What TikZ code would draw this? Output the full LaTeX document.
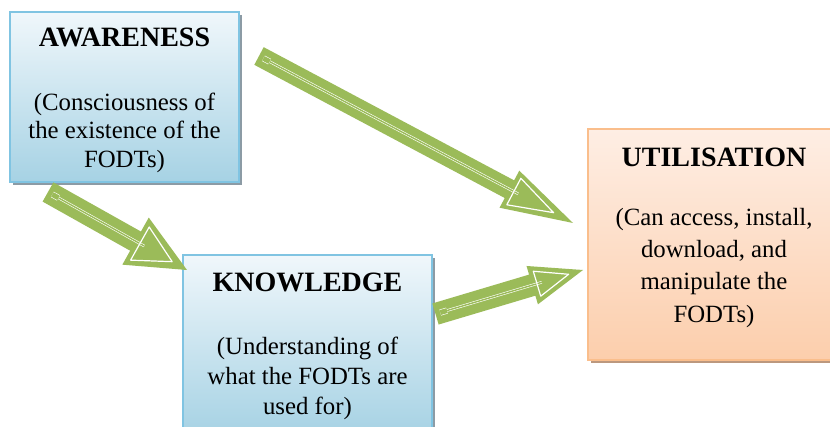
\documentclass[tikz,border=0pt]{standalone}
\usepackage{fontspec}
\setmainfont{Liberation Serif}
\usetikzlibrary{positioning,calc,shadows}

\definecolor{arrowgreen}{RGB}{155,187,89}
\definecolor{blueline}{RGB}{128,196,226}
\definecolor{bluetop}{RGB}{240,247,251}
\definecolor{bluebottom}{RGB}{166,210,228}
\definecolor{blueshadow}{RGB}{140,155,165}
\definecolor{peachline}{RGB}{250,190,140}
\definecolor{peachtop}{RGB}{254,238,228}
\definecolor{peachbottom}{RGB}{252,206,172}
\definecolor{peachshadow}{RGB}{188,152,126}

\begin{document}
\begin{tikzpicture}[x=1pt,y=-1pt,
		block/.style={draw, line width=1.6pt, outer sep=0pt, inner sep=0pt},
		blueblock/.style={block, draw=blueline, top color=bluetop, bottom color=bluebottom,
			drop shadow={shadow xshift=3pt, shadow yshift=-3pt, fill=blueshadow, opacity=1}},
		peachblock/.style={block, draw=peachline, top color=peachtop, bottom color=peachbottom,
			drop shadow={shadow xshift=3pt, shadow yshift=-3pt, fill=peachshadow, opacity=1}},
		titletext/.style={anchor=base, inner sep=0pt, font=\fontsize{28}{32}\selectfont\bfseries},
		bodytext/.style={align=center, inner sep=0pt, font=\fontsize{24.8}{#1}\selectfont}]
		\useasboundingbox (0,0) rectangle (830,427);
		\clip (0,0) rectangle (830,427);

		% the three boxes
		\node[blueblock, minimum width=229pt, minimum height=170pt] (aware) at (124.5,97) {};
		\node[blueblock, minimum width=249pt, minimum height=180pt] (know) at (307.5,345) {};
		\node[peachblock, minimum width=252pt, minimum height=231pt] (util) at (714,244.5) {};

		% texts in the boxes
		\node[titletext] (awaretitle) at ($(aware.north)+(0,35)$) {AWARENESS};
		\node[bodytext=28.3, below=46pt of awaretitle.base] (awarebody)
			{(Consciousness of\\the existence of the\\FODTs)};
		\node[titletext] (knowtitle) at ($(know.north)+(0,37)$) {KNOWLEDGE};
		\node[bodytext=30, below=45pt of knowtitle.base] (knowbody)
			{(Understanding of\\what the FODTs are\\used for)};
		\node[titletext] (utiltitle) at ($(util.north)+(0,38)$) {UTILISATION};
		\node[bodytext=32.2, below=41pt of utiltitle.base] (utilbody)
			{(Can access, install,\\download, and\\manipulate the\\FODTs)};

		% ends of the arrows
		\coordinate (a1tail) at ($(aware.north east)+(20,44)$);
		\coordinate (a1tip) at ($(util.west)+(-15,-21.5)$);
		\coordinate (a2tail) at ($(aware.south west)+(38,10)$);
		\coordinate (a2tip) at ($(know.north west)+(4,15)$);
		\coordinate (a3tail) at ($(know.east)+(3.5,-31)$);
		\coordinate (a3tip) at ($(util.west)+(-5,25.5)$);

		% block arrows
		\foreach \tail/\tip/\sw/\hw/\hl/\ihw/\ihl in {a1tail/a1tip/10/21/72/15/22,
				a2tail/a2tip/11/27/59/19/17, a3tail/a3tip/11/20/53/13/15}{
			\coordinate (headbase) at ($(\tip)!\hl pt!(\tail)$);
			\fill[arrowgreen] ($(\tail)!\sw pt!90:(\tip)$) -- ($(headbase)!\sw pt!90:(\tip)$)
				-- ($(headbase)!\hw pt!90:(\tip)$) -- (\tip) -- ($(headbase)!\hw pt!-90:(\tip)$)
				-- ($(headbase)!\sw pt!-90:(\tip)$) -- ($(\tail)!\sw pt!-90:(\tip)$) -- cycle;
			\draw[white, line width=0.6pt, double=arrowgreen, double distance=1.4pt]
				($(\tail)!12pt!(\tip)$) -- ($(headbase)!10pt!(\tip)$);
			\draw[white, line width=0.6pt, double=arrowgreen, double distance=5pt]
				($(\tail)!5pt!(\tip)$) -- ($(\tail)!12pt!(\tip)$);
			\coordinate (innerbase) at ($(headbase)!5pt!(\tip)$);
			\draw[white, line width=1.2pt, line join=round] ($(innerbase)!\ihw pt!90:(\tip)$)
				-- ($(\tip)!\ihl pt!(\tail)$) -- ($(innerbase)!\ihw pt!-90:(\tip)$) -- cycle;
		}
	\end{tikzpicture}
\end{document}
